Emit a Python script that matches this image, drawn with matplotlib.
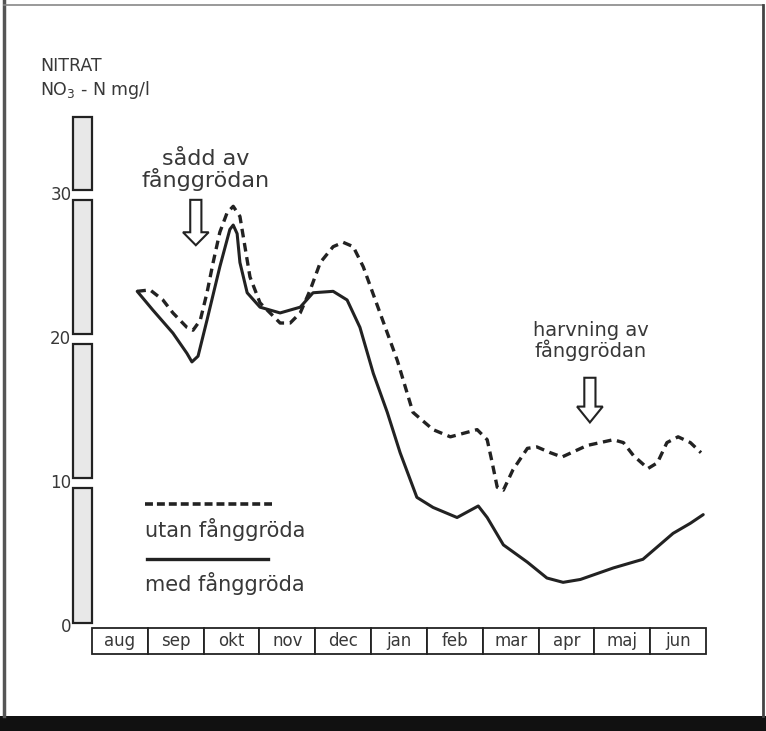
import matplotlib.pyplot as plt
from matplotlib.patches import Rectangle, Polygon
from matplotlib.lines import Line2D

# months from start of august (0) to end of june (11)
months = ["aug", "sep", "okt", "nov", "dec", "jan", "feb", "mar", "apr", "maj", "jun"]

# med fånggröda (solid)
med_x = [0.81, 1.09, 1.45, 1.70, 1.79, 1.90, 2.06, 2.29, 2.47, 2.53, 2.60, 2.65,
         2.78, 3.01, 3.37, 3.73, 3.96, 4.32, 4.57, 4.80, 5.04, 5.29, 5.52, 5.82,
         6.11, 6.54, 6.92, 7.08, 7.37, 7.80, 8.15, 8.44, 8.75, 9.34, 9.87, 10.41,
         10.72, 10.95]
med_y = [23.3, 22.0, 20.4, 19.0, 18.4, 18.8, 21.3, 25.0, 27.6, 27.9, 27.3, 25.3,
         23.2, 22.2, 21.8, 22.2, 23.2, 23.3, 22.7, 20.8, 17.6, 14.9, 12.1, 9.0,
         8.3, 7.6, 8.4, 7.6, 5.7, 4.5, 3.4, 3.1, 3.3, 4.1, 4.7, 6.5,
         7.2, 7.8]

# utan fånggröda (dashed)
utan_x = [0.81, 1.04, 1.27, 1.45, 1.70, 1.81, 1.94, 2.06, 2.17, 2.29, 2.42, 2.53,
          2.65, 2.74, 2.83, 3.01, 3.19, 3.37, 3.55, 3.73, 3.91, 4.09, 4.32, 4.50,
          4.68, 4.86, 5.16, 5.47, 5.61, 5.75, 6.11, 6.42, 6.90, 7.08, 7.17, 7.26,
          7.37, 7.54, 7.80, 7.97, 8.21, 8.42, 8.87, 9.34, 9.52, 9.70, 9.96, 10.13,
          10.30, 10.50, 10.72, 10.91]
utan_y = [23.3, 23.4, 22.7, 21.8, 20.8, 20.6, 21.3, 23.2, 25.3, 27.4, 28.75, 29.2,
          28.5, 26.4, 24.3, 22.5, 21.8, 21.1, 21.1, 21.8, 23.4, 25.3, 26.4, 26.7,
          26.4, 25.0, 21.8, 18.5, 16.7, 14.9, 13.7, 13.2, 13.7, 13.0, 11.4, 9.7,
          9.5, 10.9, 12.4, 12.5, 12.1, 11.8, 12.6, 13.0, 12.8, 11.9, 11.0, 11.4,
          12.8, 13.2, 12.8, 12.1]

yticks = [0, 10, 20, 30]
ytop = 35.4

ink = "#222222"
txt = "#383838"

fig = plt.figure(figsize=(7.66, 7.31), dpi=100)
fig.patch.set_facecolor("white")
ax = fig.add_axes([92 / 766, 104 / 731, 614 / 766, 510 / 731])
ax.set_xlim(0, 11)
ax.set_ylim(0, ytop)
ax.axis("off")

ax.plot(med_x, med_y, color=ink, lw=2.2, solid_capstyle="round",
        solid_joinstyle="round")
ax.plot(utan_x, utan_y, color=ink, lw=2.4, linestyle=(0, (2.6, 1.7)),
        dash_capstyle="butt", dash_joinstyle="round")

# y scale bar, segmented at the ticks
bar_l, bar_r = -0.34, 0.0
edges = [0.3] + [t for v in yticks[1:] for t in (v - 0.35, v + 0.35)] + [ytop]
for lo, hi in zip(edges[::2], edges[1::2]):
    ax.add_patch(Rectangle((bar_l, lo), bar_r - bar_l, hi - lo, facecolor="#e8e8e8",
                           edgecolor=ink, lw=1.6, clip_on=False, zorder=3))
for v in yticks:
    ax.text(-0.37, v, str(v), ha="right", va="center", fontsize=12, color=txt,
            clip_on=False)

# month boxes
for i, m in enumerate(months):
    ax.add_patch(Rectangle((i, -1.9), 1, 1.85, facecolor="white", edgecolor=ink,
                           lw=1.3, clip_on=False))
    ax.text(i + 0.5, -0.95, m, ha="center", va="center", fontsize=12, color=txt,
            clip_on=False)


def hollow_arrow(x, top, base, tip, sw=0.1, hw=0.23):
    pts = [(x - sw, top), (x + sw, top), (x + sw, base), (x + hw, base), (x, tip),
           (x - hw, base), (x - sw, base)]
    ax.add_patch(Polygon(pts, closed=True, facecolor="white", edgecolor=ink,
                         lw=1.5, clip_on=False, zorder=4))


ax.text(2.03, 31.75, "sådd av\nfånggrödan", ha="center", va="center",
        fontsize=16, color=txt, linespacing=0.95, clip_on=False)
hollow_arrow(1.86, 29.65, 27.4, 26.5)

ax.text(8.94, 19.85, "harvning av\nfånggrödan", ha="center", va="center",
        fontsize=14, color=txt, linespacing=1.0, clip_on=False)
hollow_arrow(8.92, 17.3, 15.3, 14.2)

# legend
ax.plot([0.95, 3.23], [8.54, 8.54], color=ink, lw=2.6, linestyle=(0, (2.2, 1.1)))
ax.text(0.95, 6.8, "utan fånggröda", ha="left", va="center", fontsize=15,
        color=txt)
ax.plot([0.98, 3.16], [4.72, 4.72], color=ink, lw=2.4)
ax.text(0.95, 3.0, "med fånggröda", ha="left", va="center", fontsize=15,
        color=txt)

# title
fig.text(40 / 766, 1 - 66 / 731, "NITRAT", ha="left", va="center", fontsize=12.5,
         color=txt)
fig.text(40 / 766, 1 - 90 / 731, "NO$_3$ - N mg/l", ha="left", va="center",
         fontsize=12.5, color=txt)

# scanned page frame
fig.add_artist(Line2D([4 / 766, 4 / 766], [15 / 731, 1], transform=fig.transFigure,
                      color="#555555", lw=2.5))
fig.add_artist(Line2D([4 / 766, 763 / 766], [1 - 5 / 731, 1 - 5 / 731],
                      transform=fig.transFigure, color="#888888", lw=1.2))
fig.add_artist(Line2D([763 / 766, 763 / 766], [15 / 731, 1 - 5 / 731],
                      transform=fig.transFigure, color="#444444", lw=2.0))
fig.add_artist(Rectangle((0, 0), 1, 15 / 731, transform=fig.transFigure,
                         facecolor="#111111", edgecolor="none"))

fig.savefig("out.png", dpi=100)
